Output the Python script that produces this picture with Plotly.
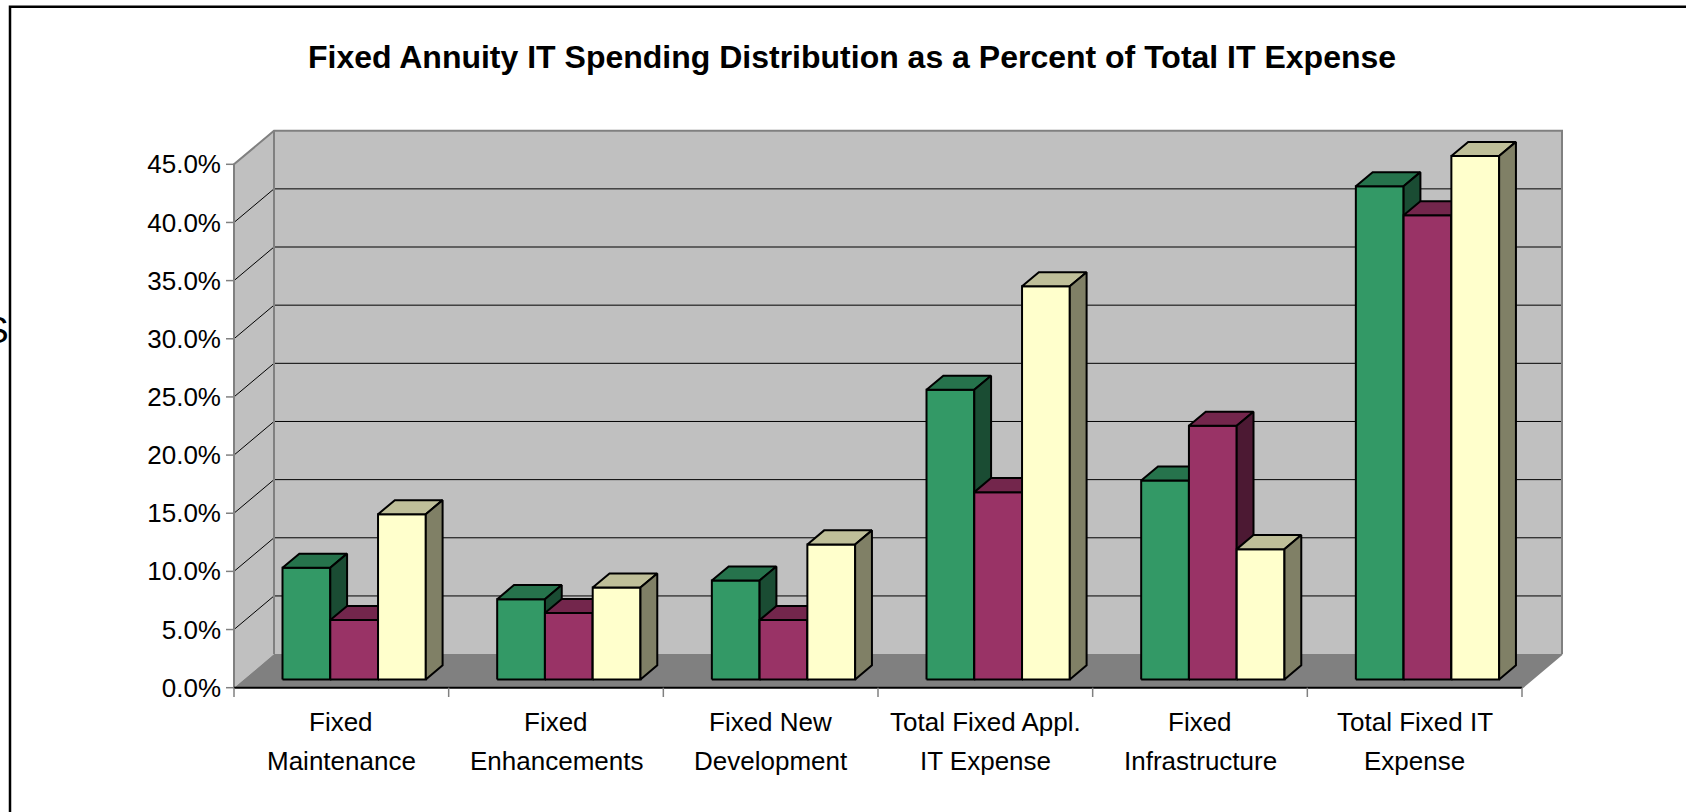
import plotly.graph_objects as go

# ---------------------------------------------------------------- data
category_lines = [
    ["Fixed", "Maintenance"],
    ["Fixed", "Enhancements"],
    ["Fixed New", "Development"],
    ["Total Fixed Appl.", "IT Expense"],
    ["Fixed", "Infrastructure"],
    ["Total Fixed IT", "Expense"],
]
green_values = [9.6, 6.9, 8.5, 24.9, 17.1, 42.4]
magenta_values = [5.1, 5.7, 5.1, 16.1, 21.8, 39.9]
yellow_values = [14.2, 7.9, 11.6, 33.8, 11.2, 45.0]
y_ticks = [0, 5, 10, 15, 20, 25, 30, 35, 40, 45]
chart_title = "Fixed Annuity IT Spending Distribution as a Percent of Total IT Expense"

# ---------------------------------------------------------------- styles
series = [
    (green_values, "#339966", "#26734C", "#1A4C33"),
    (magenta_values, "#993366", "#73264C", "#4C1933"),
    (yellow_values, "#FFFFCC", "#BFBF99", "#808066"),
]
FONT = "Liberation Sans, Arial, sans-serif"
W, H = 1686, 812

# pixel geometry of the front plane of the 3-D box
X0_PX = 234.0           # x = 0 (front left corner)
Y0_PX = 687.7           # y = 0 (front floor edge)
CAT_PX = 1288.0 / 6     # pixels per category
PCT_PX = 523.4 / 45     # pixels per percentage point
PLOT_L, PLOT_R, PLOT_T, PLOT_B = 226, 1566, 127, 697

N = len(category_lines)
Y_MAX = y_ticks[-1]
DX = 40.0 / CAT_PX      # depth offset, in category units
DY = 33.6 / PCT_PX      # depth offset, in percent units

# bar placement inside each category slot
GROUP_LEFT = 0.226
BAR_W = 0.2225
D_FRONT = 0.247         # depth fraction of the bars' front faces
D_THICK = 0.42          # depth fraction covered by each bar
BASE = D_FRONT * DY
DDX = D_THICK * DX
DDY = D_THICK * DY

x_range = [(PLOT_L - X0_PX) / CAT_PX, (PLOT_R - X0_PX) / CAT_PX]
y_range = [(Y0_PX - PLOT_B) / PCT_PX, (Y0_PX - PLOT_T) / PCT_PX]


def px_to_paper_x(px):
    return (px - PLOT_L) / (PLOT_R - PLOT_L)


def px_to_paper_y(py):
    return (PLOT_B - py) / (PLOT_B - PLOT_T)


def poly(xs, ys, fill, line_color=None, width=0):
    return go.Scatter(
        x=xs, y=ys, mode="lines", fill="toself", fillcolor=fill,
        line=dict(color=line_color or fill, width=width),
        hoverinfo="skip", showlegend=False,
    )


def lines(xs, ys, color, width):
    return go.Scatter(
        x=xs, y=ys, mode="lines", line=dict(color=color, width=width),
        hoverinfo="skip", showlegend=False,
    )


fig = go.Figure()

# walls and floor
fig.add_trace(poly([0, 0, DX, DX, 0], [0, Y_MAX, Y_MAX + DY, DY, 0], "#C0C0C0"))
fig.add_trace(poly([DX, N + DX, N + DX, DX, DX],
                   [DY, DY, Y_MAX + DY, Y_MAX + DY, DY], "#C0C0C0"))
fig.add_trace(poly([0, N, N + DX, DX, 0], [0, 0, DY, DY, 0], "#808080"))

# gridlines on the back wall and the side wall
gx, gy = [], []
for v in y_ticks[1:-1]:
    gx += [0, DX, N + DX, None]
    gy += [v, v + DY, v + DY, None]
fig.add_trace(lines(gx, gy, "#000000", 1))

# wall edges
fig.add_trace(lines(
    [0, 0, DX, N + DX, N + DX, None, DX, DX, None, N, N + DX],
    [0, Y_MAX, Y_MAX + DY, Y_MAX + DY, DY, None, DY, Y_MAX + DY, None, 0, DY],
    "#808080", 2))
fig.add_trace(lines([0, N], [0, 0], "#000000", 2))

# tick marks
tick_down = 9.5 / PCT_PX
tick_left = 8.0 / CAT_PX
tx, ty = [], []
for i in range(N + 1):
    tx += [i, i, None]
    ty += [0, -tick_down, None]
for v in y_ticks:
    tx += [-tick_left, 0, None]
    ty += [v, v, None]
fig.add_trace(lines(tx, ty, "#808080", 1.5))

# 3-D bars: front, top and side faces for every series
for k, (values, c_front, c_top, c_side) in enumerate(series):
    fx, fy, tpx, tpy, sx, sy = [], [], [], [], [], []
    for i, v in enumerate(values):
        left = i + GROUP_LEFT + k * BAR_W
        right = left + BAR_W
        b, t = BASE, BASE + v
        fx += [left, right, right, left, left, None]
        fy += [b, b, t, t, b, None]
        tpx += [left, right, right + DDX, left + DDX, left, None]
        tpy += [t, t, t + DDY, t + DDY, t, None]
        sx += [right, right + DDX, right + DDX, right, right, None]
        sy += [b, b + DDY, t + DDY, t, b, None]
    fig.add_trace(poly(fx, fy, c_front, "#000000", 2))
    fig.add_trace(poly(tpx, tpy, c_top, "#000000", 2))
    fig.add_trace(poly(sx, sy, c_side, "#000000", 2))

# category labels, two lines each
annotations = []
for i, (l1, l2) in enumerate(category_lines):
    for text, py in ((l1, 722.0), (l2, 760.5)):
        annotations.append(dict(
            x=i + 0.5, xref="x", y=px_to_paper_y(py), yref="paper",
            text=text, showarrow=False, xanchor="center", yanchor="middle",
            font=dict(family=FONT, size=26, color="#000000"),
        ))

# clipped axis-title fragment at the left edge
annotations.append(dict(
    x=px_to_paper_x(-3.3), xref="paper", y=px_to_paper_y(330), yref="paper",
    text="S", showarrow=False, xanchor="center", yanchor="middle",
    font=dict(family=FONT, size=37, color="#000000"),
))

fig.update_layout(
    width=W, height=H,
    margin=dict(l=PLOT_L, r=W - PLOT_R, t=PLOT_T, b=H - PLOT_B, autoexpand=False),
    paper_bgcolor="#FFFFFF", plot_bgcolor="#FFFFFF",
    showlegend=False, hovermode=False,
    title=dict(
        text="<b>" + chart_title + "</b>",
        x=852 / W, xref="container", xanchor="center",
        y=1 - 56.5 / H, yref="container", yanchor="middle",
        font=dict(family=FONT, size=32, color="#000000"),
    ),
    xaxis=dict(range=x_range, showgrid=False, zeroline=False,
               showticklabels=False, ticks="", showline=False),
    yaxis=dict(range=y_range, showgrid=False, zeroline=False, showline=False,
               tickvals=y_ticks, ticktext=[f"{v:.1f}%" for v in y_ticks],
               ticks="", ticklabelstandoff=4,
               tickfont=dict(family=FONT, size=26, color="#000000")),
    annotations=annotations,
    shapes=[dict(type="rect", xref="paper", yref="paper",
                 x0=px_to_paper_x(10), x1=px_to_paper_x(1720),
                 y0=px_to_paper_y(850), y1=px_to_paper_y(6.7),
                 line=dict(color="#000000", width=2.5), layer="above")],
)

fig.write_html("out.html", config={"displayModeBar": False})
